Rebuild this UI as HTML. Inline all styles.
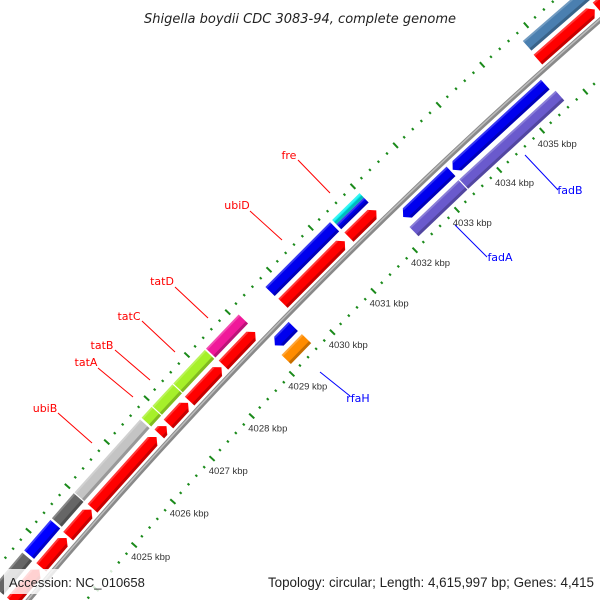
<!DOCTYPE html>
<html><head><meta charset="utf-8"><style>
html,body{margin:0;padding:0;background:#fff;width:600px;height:600px;overflow:hidden;}
svg{display:block;font-family:"Liberation Sans",sans-serif;}
</style></head><body>
<svg id="map" width="600" height="600" viewBox="0 0 600 600" xmlns="http://www.w3.org/2000/svg">
<rect width="600" height="600" fill="#fff"/>
<g id="ticks"></g>
<g id="backbone"></g>
<g id="feats"></g>
<g id="labels"></g>
<text x="300" y="23" text-anchor="middle" font-size="13" font-style="italic" fill="#222" style="font-family:'DejaVu Sans',sans-serif">Shigella boydii CDC 3083-94, complete genome</text>
<rect x="4" y="569" width="150" height="25" fill="#fff" opacity="0.82"/>
<text x="9" y="587" font-size="13" fill="#222">Accession: NC_010658</text>
<rect x="256" y="569" width="344" height="25" fill="#fff" opacity="0.82"/>
<text x="594" y="587" text-anchor="end" font-size="13.4" fill="#222">Topology: circular; Length: 4,615,997 bp; Genes: 4,415</text>
</svg>
<script>
// data (kbp)
const fwdCDS = [[4022.9,4023.62],[4023.67,4024.33],[4024.37,4024.97],[4025.0,4026.63],[4026.7,4026.88],[4026.93,4027.42],[4027.46,4028.25],[4028.3,4029.08],[4029.76,4031.25],[4031.35,4032.0],[4035.76,4037.05],[4037.1,4038.6]];
const fwdCOGStart = [4022.9,4023.7,4024.42,4025.0,4026.7,4026.97,4027.49,4028.3,4029.75,4035.78];
const fwdCOGEnd   = [4023.65,4024.38,4024.98,4026.66,4026.95,4027.47,4028.27,4029.1,4031.3,4038.6];
const fwdCOGColor = ["#666666","#0000ff","#666666","#c4c4c4","#a6f02a","#a6f02a","#a6f02a","#f0199a","#0000ee","#4a7fb0"];
const freStart = [4031.35], freEnd = [4032.0];
const revCDS = [[4029.15,4029.6],[4032.25,4033.38],[4033.42,4035.57]];
const revCOGStart = [4029.11,4032.21,4033.39];
const revCOGEnd   = [4029.61,4033.37,4035.63];
const revCOGColor = ["#ff8c00","#6a5acd","#6a5acd"];
const tickLabels = [4025,4026,4027,4028,4029,4030,4031,4032,4033,4034,4035];
const geneNames = ["ubiB","tatA","tatB","tatC","tatD","ubiD","fre","rfaH","fadA","fadB"];
const geneColors = ["red","red","red","red","red","red","red","blue","blue","blue"];

// geometry
const CX=4103, CY=4044, R=5335, PHI0=223.29, K0=4028, DEG=0.63;
function pt(k,r){const a=(PHI0+(k-K0)*DEG)*Math.PI/180;return [CX+r*Math.cos(a),CY+r*Math.sin(a)];}
const NS="http://www.w3.org/2000/svg";
function mk(tag,parent,attrs){const e=document.createElementNS(NS,tag);for(const k in attrs)e.setAttribute(k,attrs[k]);parent.appendChild(e);return e;}
function P(a){return a.map(p=>p[0].toFixed(2)+","+p[1].toFixed(2)).join(" ");}

// backbone
const bb=document.getElementById('backbone');
let bpts=[];for(let k=4020;k<=4040;k+=0.5)bpts.push(pt(k,R));
const bl=mk('polyline',bb,{points:P(bpts),fill:'none',stroke:'#8a8a8a','stroke-width':5});


let bpts2=[];for(let k=4020;k<=4040;k+=0.5)bpts2.push(pt(k,R+0.8));
const bl2=mk('polyline',bb,{points:P(bpts2),fill:'none',stroke:'#bdbdbd','stroke-width':1.5});



// ticks
const tg=document.getElementById('ticks');
for(let i=0;i<=85;i++){
  const k=4022+i*0.2; const major=Math.abs(k-Math.round(k))<0.01;
  const len=major?7:2.5;
  [R+45,R-44].forEach(r=>{
    const a=pt(k,r-len/2),b=pt(k,r+len/2);
    const t=mk('line',tg,{x1:a[0],y1:a[1],x2:b[0],y2:b[1],stroke:'#1a8a1a','stroke-width':2});
    
    
  });
}
tickLabels.forEach(k=>{
  const p=pt(k,R-62);
  const t=mk('text',tg,{x:p[0]+3,y:p[1]+3,'text-anchor':'middle','font-size':9.5,fill:'#333'});
  t.textContent=k+" kbp";
  
  
});

// features
const fg=document.getElementById('feats');
const H=13, AH=0.1;
function feature(k1,k2,rc,h,color,dir,name){
  const ri=rc-h/2, ro=rc+h/2; let pts;
  if(dir>0){const a=Math.max(k1,k2-AH);pts=[pt(k1,ri),pt(a,ri),pt(k2,rc),pt(a,ro),pt(k1,ro)];}
  else if(dir<0){const a=Math.min(k2,k1+AH);pts=[pt(k2,ri),pt(a,ri),pt(k1,rc),pt(a,ro),pt(k2,ro)];}
  else pts=[pt(k1,ri),pt(k2,ri),pt(k2,ro),pt(k1,ro)];
  const g=mk('g',fg,{});
  
  
  mk('polygon',g,{points:P(pts),fill:color});
  let sh,hl;
  const s=3;
  if(dir>0){const a=Math.max(k1,k2-AH);sh=[pt(k1,ri),pt(a,ri),pt(k2-AH*0.77,ri+s),pt(k1,ri+s)];hl=[pt(k1,ro-2),pt(k2-AH*0.85,ro-2),pt(a,ro),pt(k1,ro)];}
  else if(dir<0){const a=Math.min(k2,k1+AH);sh=[pt(k2,ri),pt(a,ri),pt(k1+AH*0.77,ri+s),pt(k2,ri+s)];hl=[pt(k2,ro-2),pt(k1+AH*0.85,ro-2),pt(a,ro),pt(k2,ro)];}
  else{sh=[pt(k1,ri),pt(k2,ri),pt(k2,ri+s),pt(k1,ri+s)];hl=[pt(k1,ro-2),pt(k2,ro-2),pt(k2,ro),pt(k1,ro)];}
  mk('polygon',g,{points:P(sh),fill:'#000',opacity:0.22});
  mk('polygon',g,{points:P(hl),fill:'#fff',opacity:0.22});
}
fwdCOGStart.forEach((s,i)=>feature(s,fwdCOGEnd[i],R+29,H,fwdCOGColor[i],0,'forward-cog-feature'));
freStart.forEach((s,i)=>{feature(s,freEnd[i],R+26,7,'#0000ee',0,'ubiD-overlap-feature');feature(s,freEnd[i],R+32.5,6,'#00f0f0',0,'fre-cog-feature');});
fwdCDS.forEach(f=>feature(f[0],f[1],R+11.5,H,'#ff0000',1,'forward-cds-arrow'));
revCDS.forEach(f=>feature(f[0],f[1],R-12,H,'#0000ee',-1,'reverse-cds-arrow'));
revCOGStart.forEach((s,i)=>feature(s,revCOGEnd[i],R-30,H,revCOGColor[i],0,'reverse-cog-feature'));

// gene labels (pixel annotation layout)
const lblLine=[[92,443,58,413],[133,397,98,368],[150,380,115,350],[175,352,142,321],[208,318,175,287],[282,240,250,211],[330,193,298,160],[320,372,350,396],[455,225,487,257],[525,155,558,190]];
const lblText=[[45,412],[86,366],[102,349],[129,320],[162,285],[237,209],[289,159],[358,402],[500,261],[570,194]];
const lg=document.getElementById('labels');
geneNames.forEach((n,i)=>{
  const l=lblLine[i];
  const ln=mk('line',lg,{x1:l[0],y1:l[1],x2:l[2],y2:l[3],stroke:geneColors[i],'stroke-width':1});
  
  
  const t=mk('text',lg,{x:lblText[i][0],y:lblText[i][1],'text-anchor':'middle','font-size':11,fill:geneColors[i],style:"font-family:'DejaVu Sans',sans-serif"});
  t.textContent=n;
  
  
});
</script>
</body></html>
